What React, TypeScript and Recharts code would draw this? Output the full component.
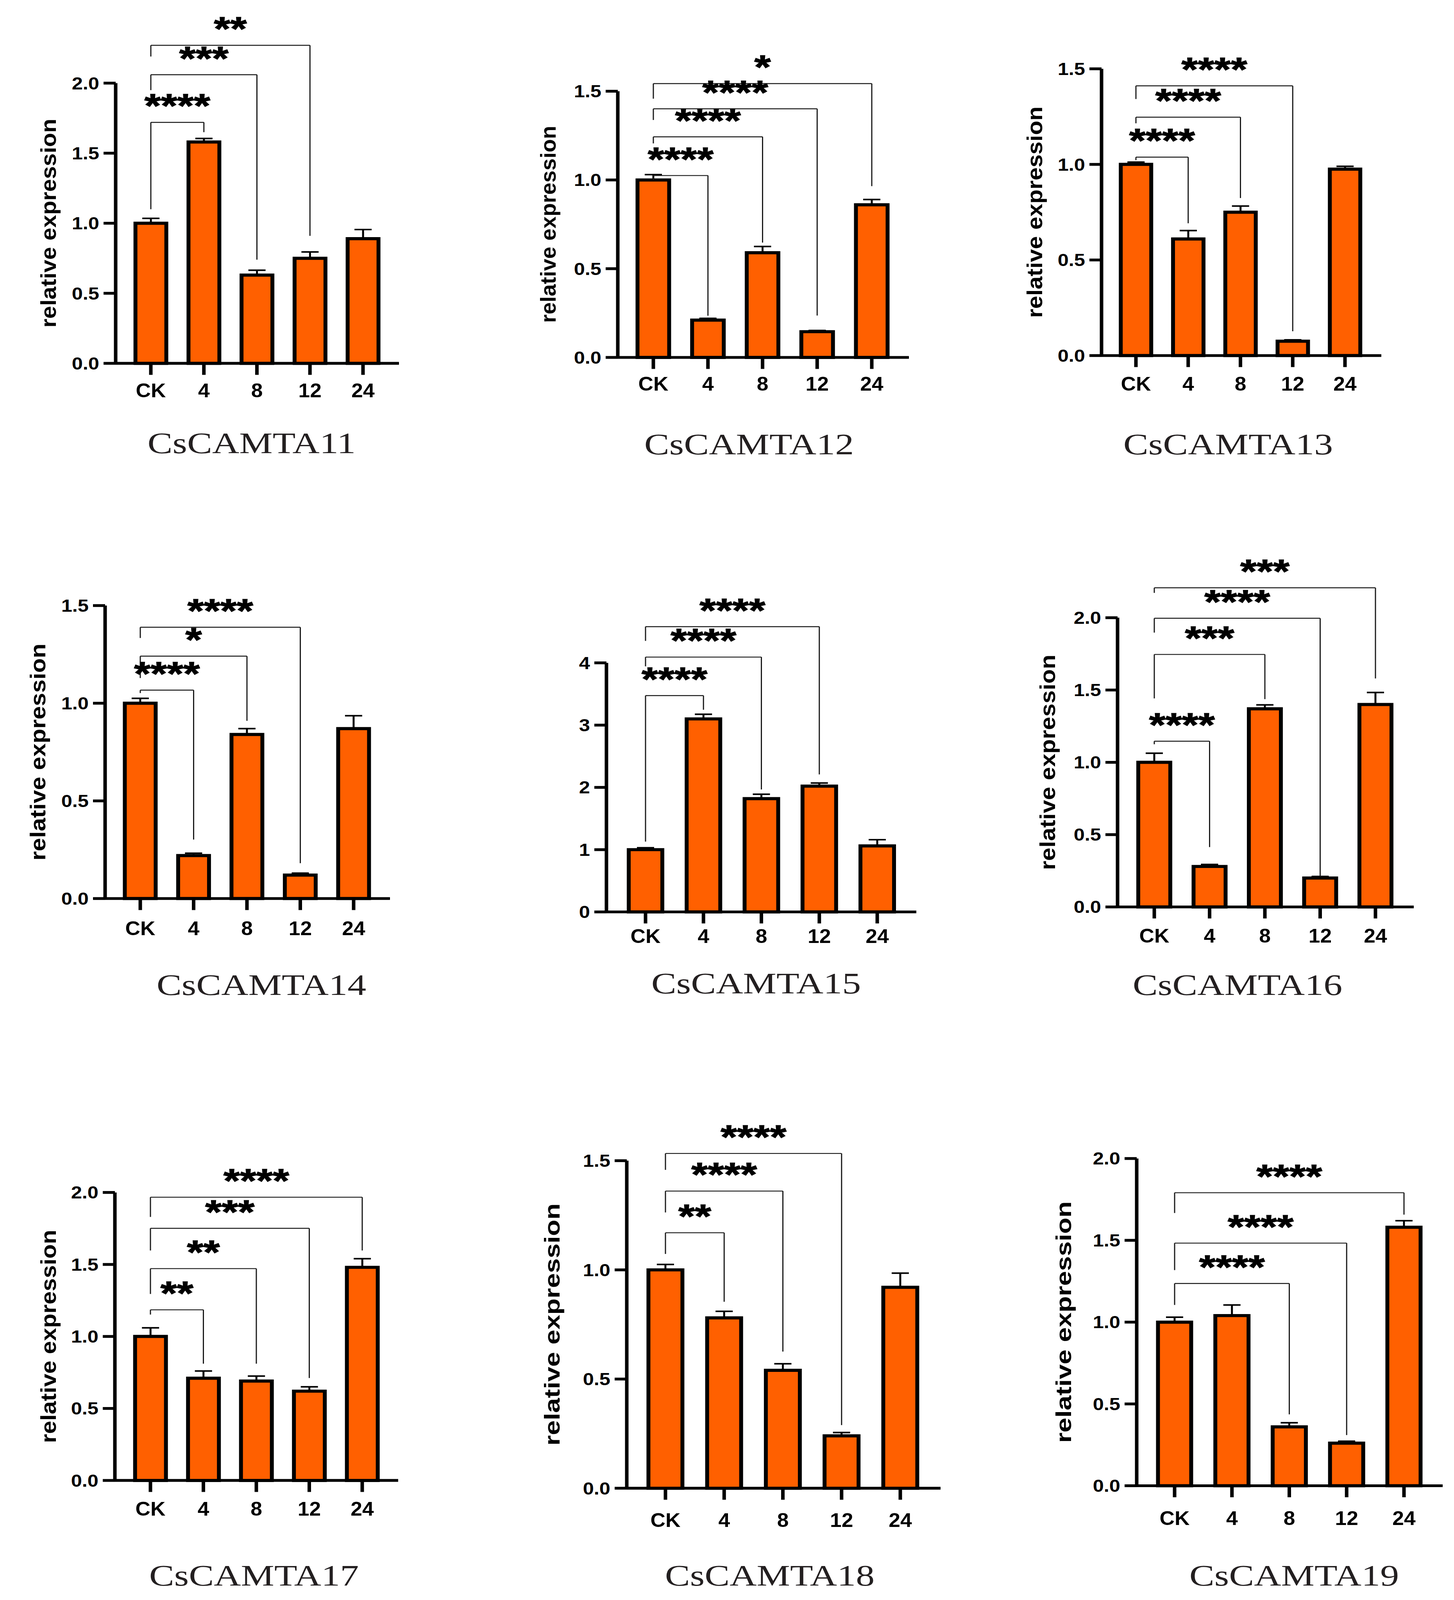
import React from "react";
import { BarChart, Bar, XAxis, YAxis, ErrorBar, ReferenceLine } from "recharts";

const SANS = "'Liberation Sans', Arial, Helvetica, sans-serif";
const SERIF = "'Liberation Serif', 'Times New Roman', serif";

const categories = ["CK", "4", "8", "12", "24"];

const ticks20 = [0, 0.5, 1, 1.5, 2];
const ticks15 = [0, 0.5, 1, 1.5];
const ticks4 = [0, 1, 2, 3, 4];

// mean and upper SD per time point
const cs11Mean = [1.0, 1.58, 0.63, 0.75, 0.89];
const cs11Err = [0.035, 0.025, 0.035, 0.045, 0.065];
const cs12Mean = [1.0, 0.21, 0.59, 0.145, 0.86];
const cs12Err = [0.03, 0.01, 0.035, 0.007, 0.03];
const cs13Mean = [1.0, 0.61, 0.75, 0.075, 0.975];
const cs13Err = [0.012, 0.044, 0.032, 0.007, 0.015];
const cs14Mean = [1.0, 0.22, 0.84, 0.12, 0.87];
const cs14Err = [0.025, 0.012, 0.03, 0.01, 0.066];
const cs15Mean = [1.0, 3.1, 1.82, 2.02, 1.06];
const cs15Err = [0.03, 0.075, 0.07, 0.05, 0.1];
const cs16Mean = [1.0, 0.28, 1.37, 0.2, 1.4];
const cs16Err = [0.063, 0.014, 0.027, 0.011, 0.083];
const cs17Mean = [1.0, 0.71, 0.69, 0.62, 1.48];
const cs17Err = [0.06, 0.05, 0.035, 0.03, 0.06];
const cs18Mean = [1.0, 0.78, 0.54, 0.24, 0.92];
const cs18Err = [0.025, 0.03, 0.03, 0.015, 0.065];
const cs19Mean = [1.0, 1.04, 0.36, 0.26, 1.58];
const cs19Err = [0.03, 0.065, 0.025, 0.012, 0.04];

// significance brackets vs CK: target, stars, bracket level, left leg end, right leg end
type Sig = { to: string; stars: string; y: number; left: number; right: number };
const cs11Sig: Sig[] = [
  { to: "4", stars: "****", y: 1.72, left: 1.1, right: 1.65 },
  { to: "8", stars: "***", y: 2.06, left: 1.95, right: 0.74 },
  { to: "12", stars: "**", y: 2.27, left: 2.19, right: 0.91 },
];
const cs12Sig: Sig[] = [
  { to: "4", stars: "****", y: 1.025, left: 1.0, right: 0.235 },
  { to: "8", stars: "****", y: 1.243, left: 1.206, right: 0.647 },
  { to: "12", stars: "****", y: 1.401, left: 1.338, right: 0.236 },
  { to: "24", stars: "*", y: 1.543, left: 1.458, right: 0.965 },
];
const cs13Sig: Sig[] = [
  { to: "4", stars: "****", y: 1.038, left: 1.022, right: 0.692 },
  { to: "8", stars: "****", y: 1.247, left: 1.215, right: 0.824 },
  { to: "12", stars: "****", y: 1.411, left: 1.342, right: 0.127 },
];
const cs14Sig: Sig[] = [
  { to: "4", stars: "****", y: 1.067, left: 1.052, right: 0.302 },
  { to: "8", stars: "*", y: 1.241, left: 1.129, right: 0.91 },
  { to: "12", stars: "****", y: 1.389, left: 1.334, right: 0.181 },
];
const cs15Sig: Sig[] = [
  { to: "4", stars: "****", y: 3.474, left: 1.13, right: 3.247 },
  { to: "8", stars: "****", y: 4.093, left: 3.944, right: 1.967 },
  { to: "12", stars: "****", y: 4.581, left: 4.353, right: 2.209 },
];
const cs16Sig: Sig[] = [
  { to: "4", stars: "****", y: 1.146, left: 1.125, right: 0.414 },
  { to: "8", stars: "***", y: 1.746, left: 1.442, right: 1.437 },
  { to: "12", stars: "****", y: 1.996, left: 1.897, right: 0.211 },
  { to: "24", stars: "***", y: 2.207, left: 2.172, right: 1.58 },
];
const cs17Sig: Sig[] = [
  { to: "4", stars: "**", y: 1.185, left: 1.152, right: 0.811 },
  { to: "8", stars: "**", y: 1.471, left: 1.295, right: 0.811 },
  { to: "12", stars: "***", y: 1.751, left: 1.597, right: 0.711 },
  { to: "24", stars: "****", y: 1.967, left: 1.83, right: 1.597 },
];
const cs18Sig: Sig[] = [
  { to: "4", stars: "**", y: 1.17, left: 1.073, right: 0.854 },
  { to: "8", stars: "****", y: 1.361, left: 1.263, right: 0.626 },
  { to: "12", stars: "****", y: 1.533, left: 1.458, right: 0.289 },
];
const cs19Sig: Sig[] = [
  { to: "8", stars: "****", y: 1.236, left: 1.105, right: 0.436 },
  { to: "12", stars: "****", y: 1.483, left: 1.318, right: 0.31 },
  { to: "24", stars: "****", y: 1.791, left: 1.667, right: 1.657 },
];

// the browser window stops at 4096px tall, so the 5139px figure is squeezed to fit
const PAGE_W = 3721;
const PAGE_H = 5139;

const Y_AXIS_W = 250;
const X_FONT = 62;
const Y_FONT = 55;

const panels = [
  { name: "CsCAMTA11", mean: cs11Mean, err: cs11Err, sig: cs11Sig, ticks: ticks20, digits: 1, ylabel: true,
    top: 0, axisX: 296, xEnd: 1021, ckX: 386, lastX: 929, plotTop: 267, zero: 1167, labelX: 143, labelLen: 671, tickY: 1254, titleX: 644, titleY: 1455 },
  { name: "CsCAMTA12", mean: cs12Mean, err: cs12Err, sig: cs12Sig, ticks: ticks15, digits: 1, ylabel: true,
    top: 0, axisX: 1581, xEnd: 2326, ckX: 1672, lastX: 2231, plotTop: 293, zero: 1148, labelX: 1422, labelLen: 633, tickY: 1232, titleX: 1917, titleY: 1459 },
  { name: "CsCAMTA13", mean: cs13Mean, err: cs13Err, sig: cs13Sig, ticks: ticks15, digits: 1, ylabel: true,
    top: 0, axisX: 2819, xEnd: 3535, ckX: 2907, lastX: 3442, plotTop: 221, zero: 1142, labelX: 2667, labelLen: 679, tickY: 1232, titleX: 3143, titleY: 1459 },
  { name: "CsCAMTA14", mean: cs14Mean, err: cs14Err, sig: cs14Sig, ticks: ticks15, digits: 1, ylabel: true,
    top: 1650, axisX: 269, xEnd: 998, ckX: 359, lastX: 905, plotTop: 1945, zero: 2886, labelX: 116, labelLen: 697, tickY: 2982, titleX: 669, titleY: 3195 },
  { name: "CsCAMTA15", mean: cs15Mean, err: cs15Err, sig: cs15Sig, ticks: ticks4, digits: 0, ylabel: false,
    top: 1650, axisX: 1552, xEnd: 2345, ckX: 1652, lastX: 2245, plotTop: 2129, zero: 2929, labelX: 0, labelLen: 0, tickY: 3007, titleX: 1935, titleY: 3191 },
  { name: "CsCAMTA16", mean: cs16Mean, err: cs16Err, sig: cs16Sig, ticks: ticks20, digits: 1, ylabel: true,
    top: 1650, axisX: 2860, xEnd: 3618, ckX: 2954, lastX: 3520, plotTop: 1984, zero: 2913, labelX: 2700, labelLen: 692, tickY: 3005, titleX: 3167, titleY: 3195 },
  { name: "CsCAMTA17", mean: cs17Mean, err: cs17Err, sig: cs17Sig, ticks: ticks20, digits: 1, ylabel: true,
    top: 3500, axisX: 294, xEnd: 1019, ckX: 385, lastX: 927, plotTop: 3830, zero: 4755, labelX: 143, labelLen: 685, tickY: 4846, titleX: 650, titleY: 5093 },
  { name: "CsCAMTA18", mean: cs18Mean, err: cs18Err, sig: cs18Sig, ticks: ticks15, digits: 1, ylabel: true,
    top: 3500, axisX: 1604, xEnd: 2407, ckX: 1703, lastX: 2304, plotTop: 3728, zero: 4780, labelX: 1432, labelLen: 778, tickY: 4882, titleX: 1970, titleY: 5092 },
  { name: "CsCAMTA19", mean: cs19Mean, err: cs19Err, sig: cs19Sig, ticks: ticks20, digits: 1, ylabel: true,
    top: 3500, axisX: 2909, xEnd: 3692, ckX: 3006, lastX: 3593, plotTop: 3721, zero: 4772, labelX: 2741, labelLen: 776, tickY: 4876, titleX: 3312, titleY: 5093 },
];

type PanelCfg = (typeof panels)[number];

function XTick(props: any) {
  const { x, y, payload } = props;
  return (
    <text
      transform={`translate(${x},${y}) scale(0.86,1)`}
      x={0}
      y={0.716 * X_FONT}
      textAnchor="middle"
      fontSize={X_FONT}
      fontWeight={700}
      fontFamily={SANS}
      fill="#000"
    >
      {payload.value}
    </text>
  );
}

function makeYTick(digits: number) {
  return (props: any) => {
    const { x, y, payload } = props;
    return (
      <text
        transform={`translate(${x},${y}) scale(0.92,1)`}
        x={0}
        y={0.358 * Y_FONT}
        textAnchor="end"
        fontSize={Y_FONT}
        fontWeight={700}
        fontFamily={SANS}
        fill="#000"
      >
        {Number(payload.value).toFixed(digits)}
      </text>
    );
  };
}

function Panel({ p }: { p: PanelCfg }) {
  const L = p.axisX - Y_AXIS_W;
  const T = p.top;
  const W = p.xEnd + 20 - L;
  const H = p.titleY + 40 - T;
  const spacing = (p.lastX - p.ckX) / 4;
  const padL = p.ckX - p.axisX - spacing / 2;
  const padR = p.xEnd - p.lastX - spacing / 2;
  const xAxisH = T + H - p.zero;
  const tickMargin = p.tickY - 0.358 * X_FONT - p.zero - 37;
  const yMax = p.ticks[p.ticks.length - 1];

  const data = categories.map((c, i) => ({ cat: c, mean: p.mean[i], err: [0, p.err[i]] }));

  const title = () => (
    <text x={p.titleX - L} y={p.titleY - T} textAnchor="middle" fontSize={96} fontFamily={SERIF} fill="#231f20">
      {p.name}
    </text>
  );

  const ylabel = () => {
    const cx = p.labelX - L;
    const cy = (p.plotTop + p.zero) / 2 - T;
    return (
      <text
        transform={`translate(${cx},${cy}) rotate(-90)`}
        x={-p.labelLen / 2}
        y={0}
        textAnchor="start"
        textLength={p.labelLen}
        lengthAdjust="spacingAndGlyphs"
        fontSize={Y_FONT}
        fontWeight={700}
        fontFamily={SANS}
        fill="#000"
      >
        relative expression
      </text>
    );
  };

  const line = { stroke: "#1a1a1a", strokeWidth: 3, ifOverflow: "visible" as const };

  return (
    <div style={{ position: "absolute", left: L, top: T }}>
      <BarChart
        width={W}
        height={H}
        data={data}
        margin={{ top: p.plotTop - T, right: 20, bottom: 0, left: 0 }}
        barCategoryGap="21%"
      >
        <XAxis
          dataKey="cat"
          type="category"
          height={xAxisH}
          padding={{ left: padL, right: padR }}
          axisLine={{ stroke: "#000", strokeWidth: 9 }}
          tickLine={{ stroke: "#000", strokeWidth: 9 }}
          tickSize={37}
          tickMargin={tickMargin}
          tick={XTick}
          interval={0}
          label={title}
        />
        <YAxis
          type="number"
          domain={[0, yMax]}
          ticks={p.ticks}
          width={Y_AXIS_W}
          axisLine={{ stroke: "#000", strokeWidth: 9 }}
          tickLine={{ stroke: "#000", strokeWidth: 9 }}
          tickSize={31}
          tickMargin={11}
          tick={makeYTick(p.digits)}
          interval={0}
          label={p.ylabel ? ylabel : undefined}
        />
        <Bar dataKey="mean" fill="#ff6000" stroke="#000" strokeWidth={10} isAnimationActive={false}>
          <ErrorBar dataKey="err" width={22} stroke="#000" strokeWidth={5} direction="y" isAnimationActive={false} />
        </Bar>
        {p.sig.map((s) => (
          <ReferenceLine
            key={`h-${s.to}`}
            segment={[{ x: "CK", y: s.y }, { x: s.to, y: s.y }]}
            {...line}
            label={{
              value: s.stars,
              position: "top",
              offset: 16,
              fill: "#000",
              stroke: "#000",
              strokeWidth: 2,
              fontSize: 108,
              fontWeight: 700,
              fontFamily: SANS,
            }}
          />
        ))}
        {p.sig.map((s) => (
          <ReferenceLine key={`l-${s.to}`} segment={[{ x: "CK", y: s.y }, { x: "CK", y: s.left }]} {...line} />
        ))}
        {p.sig.map((s) => (
          <ReferenceLine key={`r-${s.to}`} segment={[{ x: s.to, y: s.y }, { x: s.to, y: s.right }]} {...line} />
        ))}
      </BarChart>
    </div>
  );
}

export default function App() {
  const viewH = Math.min(PAGE_H, window.innerHeight || PAGE_H);
  const squeeze = viewH / PAGE_H;
  return (
    <div
      style={{
        position: "relative",
        width: PAGE_W,
        height: viewH,
        margin: "-8px 0 -8px -8px",
        background: "#fff",
        overflow: "hidden",
      }}
    >
      <div
        style={{
          position: "absolute",
          left: 0,
          top: 0,
          width: PAGE_W,
          height: PAGE_H,
          transform: `scale(1, ${squeeze})`,
          transformOrigin: "0 0",
        }}
      >
        {panels.map((p) => (
          <Panel key={p.name} p={p} />
        ))}
      </div>
    </div>
  );
}
